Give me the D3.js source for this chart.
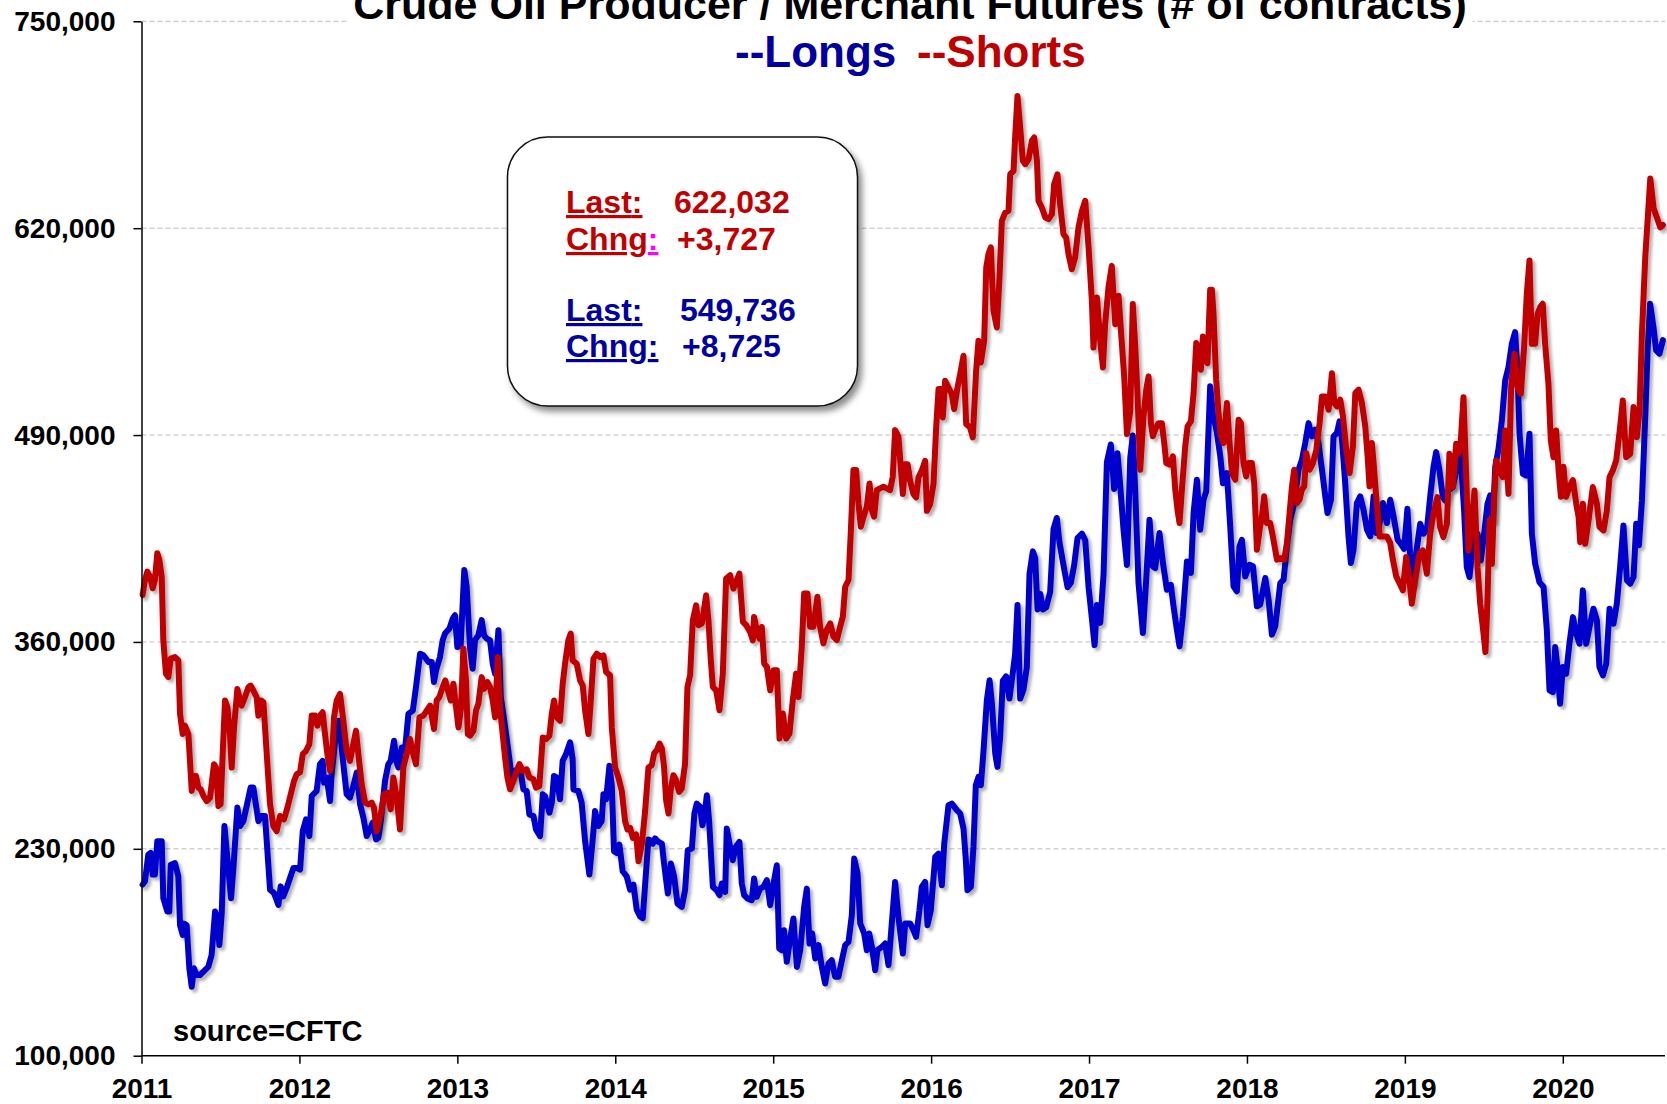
<!DOCTYPE html>
<html>
<head>
<meta charset="utf-8">
<script src="https://cdn.jsdelivr.net/npm/d3@7"></script>
<style>
body { margin: 0; background: #fff; }
svg { display: block; font-family: "Liberation Sans", Arial, sans-serif; font-weight: bold; }
.grid line { stroke: #bdbdbd; stroke-width: 1px; stroke-dasharray: 5,3; }
.axis text { font-size: 28px; font-weight: bold; fill: #000; }
.axis line { stroke: #000; stroke-width: 1.5px; }
.series { fill: none; stroke-width: 6px; stroke-linejoin: round; stroke-linecap: round; }
.box text { font-size: 32px; }
.u { text-decoration: underline; }
</style>
</head>
<body>
<svg width="1667" height="1104"></svg>
<script>
var width = 1667,
    height = 1104;

var yearTicks = [2011, 2012, 2013, 2014, 2015, 2016, 2017, 2018, 2019, 2020];
var valueTicks = [100000, 230000, 360000, 490000, 620000, 750000];

// [decimal year, thousands of contracts]
var longs = [
  [2011.007,207.5],[2011.022,209.6],[2011.043,226.4],[2011.058,227.5],[2011.071,213.8],[2011.085,213.8],[2011.100,234.8],[2011.128,234.8],
  [2011.138,199.0],[2011.164,190.6],[2011.176,190.6],[2011.185,220.0],[2011.212,221.0],[2011.233,212.7],[2011.244,182.0],[2011.261,175.9],
  [2011.269,183.0],[2011.286,181.9],[2011.303,154.9],[2011.318,143.3],[2011.332,154.9],[2011.349,150.7],[2011.370,150.7],[2011.392,152.8],
  [2011.423,155.9],[2011.444,163.3],[2011.466,190.6],[2011.480,186.4],[2011.493,169.6],[2011.508,189.6],[2011.525,244.3],[2011.540,228.5],
  [2011.567,199.0],[2011.582,218.0],[2011.607,255.9],[2011.624,244.3],[2011.645,247.4],[2011.666,256.9],[2011.691,268.5],[2011.708,268.5],
  [2011.740,247.4],[2011.761,250.6],[2011.782,250.6],[2011.814,204.3],[2011.839,202.2],[2011.867,194.8],[2011.881,206.4],[2011.898,200.1],
  [2011.919,205.4],[2011.962,218.0],[2011.983,218.0],[2012.004,216.9],[2012.021,241.1],[2012.042,248.5],[2012.063,238.0],[2012.078,263.2],
  [2012.109,266.4],[2012.130,283.2],[2012.147,285.3],[2012.156,271.6],[2012.173,274.8],[2012.194,260.0],[2012.204,276.9],[2012.226,297.9],
  [2012.251,310.5],[2012.278,283.2],[2012.299,264.3],[2012.320,262.2],[2012.341,269.5],[2012.363,278.0],[2012.384,258.0],[2012.405,249.5],
  [2012.426,238.0],[2012.447,242.2],[2012.464,246.4],[2012.485,235.9],[2012.500,236.9],[2012.515,247.4],[2012.542,272.7],[2012.563,283.2],
  [2012.578,285.3],[2012.599,297.9],[2012.616,284.3],[2012.627,281.1],[2012.648,293.7],[2012.669,292.6],[2012.690,314.8],[2012.718,316.9],
  [2012.738,331.6],[2012.764,352.6],[2012.785,351.6],[2012.817,347.4],[2012.838,347.4],[2012.852,334.8],[2012.865,342.1],[2012.890,350.5],
  [2012.907,361.1],[2012.922,365.3],[2012.950,368.4],[2012.971,374.7],[2012.985,376.8],[2013.000,356.8],[2013.021,357.9],[2013.044,405.2],
  [2013.059,394.7],[2013.080,356.8],[2013.097,343.2],[2013.112,361.1],[2013.133,364.2],[2013.154,373.7],[2013.169,364.2],[2013.186,362.1],
  [2013.207,361.1],[2013.224,346.3],[2013.239,340.0],[2013.260,367.4],[2013.275,325.3],[2013.291,314.8],[2013.323,291.6],[2013.344,274.8],
  [2013.366,279.0],[2013.397,281.1],[2013.418,267.4],[2013.439,266.4],[2013.456,251.6],[2013.482,250.6],[2013.498,242.2],[2013.524,238.0],
  [2013.541,264.3],[2013.555,263.2],[2013.583,252.7],[2013.598,259.0],[2013.612,275.8],[2013.629,274.8],[2013.650,261.1],[2013.667,285.3],
  [2013.688,289.5],[2013.714,296.9],[2013.730,286.4],[2013.735,267.4],[2013.766,266.4],[2013.787,259.0],[2013.809,234.8],[2013.836,213.8],
  [2013.857,235.9],[2013.872,253.7],[2013.893,244.3],[2013.914,247.4],[2013.925,264.3],[2013.942,261.1],[2013.963,282.2],[2013.978,269.5],
  [2013.992,228.5],[2014.009,227.5],[2014.026,232.7],[2014.047,215.9],[2014.072,212.7],[2014.094,204.3],[2014.115,207.5],[2014.136,191.7],
  [2014.157,187.5],[2014.174,186.4],[2014.189,207.5],[2014.210,235.9],[2014.221,235.4],[2014.238,233.3],[2014.252,236.5],[2014.273,234.4],
  [2014.295,233.3],[2014.309,220.8],[2014.333,201.9],[2014.352,220.8],[2014.373,212.4],[2014.394,195.6],[2014.421,193.5],[2014.442,204.0],
  [2014.459,229.1],[2014.485,230.2],[2014.501,252.2],[2014.516,258.4],[2014.537,256.3],[2014.552,244.8],[2014.563,250.1],[2014.580,263.7],
  [2014.594,248.0],[2014.618,206.1],[2014.643,204.0],[2014.660,200.9],[2014.675,208.2],[2014.696,202.9],[2014.706,242.7],[2014.727,231.2],
  [2014.744,222.8],[2014.763,231.2],[2014.786,234.4],[2014.801,208.2],[2014.816,200.9],[2014.837,198.8],[2014.864,197.7],[2014.879,211.3],
  [2014.896,199.8],[2014.917,205.0],[2014.938,206.1],[2014.960,210.3],[2014.981,194.6],[2015.002,208.2],[2015.023,219.7],[2015.038,167.4],
  [2015.055,166.3],[2015.069,178.9],[2015.086,159.0],[2015.103,170.5],[2015.128,186.2],[2015.150,155.8],[2015.171,166.3],[2015.196,193.5],
  [2015.213,205.0],[2015.230,170.5],[2015.247,176.8],[2015.266,161.1],[2015.287,169.5],[2015.308,155.8],[2015.329,145.4],[2015.350,157.9],
  [2015.371,160.0],[2015.392,149.6],[2015.413,149.6],[2015.435,160.0],[2015.456,169.5],[2015.477,171.5],[2015.498,188.3],[2015.513,223.9],
  [2015.534,214.5],[2015.551,183.1],[2015.576,176.8],[2015.593,166.3],[2015.608,176.8],[2015.625,168.4],[2015.646,153.7],[2015.660,166.3],
  [2015.688,168.4],[2015.709,170.5],[2015.730,156.9],[2015.751,183.1],[2015.772,209.2],[2015.793,187.2],[2015.821,164.2],[2015.836,183.1],
  [2015.867,183.1],[2015.888,178.9],[2015.905,174.7],[2015.926,191.4],[2015.941,206.1],[2015.962,209.2],[2015.977,182.0],[2015.998,191.4],
  [2016.026,224.9],[2016.047,227.0],[2016.068,207.1],[2016.083,233.3],[2016.110,257.4],[2016.131,258.4],[2016.163,254.3],[2016.184,252.2],
  [2016.205,242.7],[2016.220,222.8],[2016.230,204.0],[2016.252,206.1],[2016.268,231.2],[2016.283,270.0],[2016.300,275.2],[2016.315,270.0],
  [2016.332,292.0],[2016.353,323.4],[2016.370,335.9],[2016.385,321.3],[2016.406,289.9],[2016.420,281.5],[2016.437,300.0],[2016.454,335.6],
  [2016.475,338.4],[2016.496,324.4],[2016.518,341.2],[2016.532,352.4],[2016.547,383.2],[2016.564,324.4],[2016.585,330.0],[2016.606,344.0],
  [2016.623,402.8],[2016.644,416.9],[2016.659,412.7],[2016.674,380.4],[2016.691,390.2],[2016.708,380.4],[2016.729,381.8],[2016.754,391.6],
  [2016.775,430.9],[2016.796,437.9],[2016.813,422.5],[2016.838,408.4],[2016.864,394.4],[2016.885,397.2],[2016.906,408.4],[2016.927,425.3],
  [2016.955,428.1],[2016.976,423.9],[2016.997,394.4],[2017.018,374.8],[2017.035,358.0],[2017.050,383.2],[2017.071,372.0],[2017.092,402.8],
  [2017.113,472.9],[2017.138,484.1],[2017.159,456.1],[2017.180,478.5],[2017.197,458.9],[2017.218,430.9],[2017.240,408.4],[2017.261,475.7],
  [2017.277,489.7],[2017.292,456.1],[2017.313,397.2],[2017.341,365.6],[2017.362,399.1],[2017.383,436.8],[2017.404,407.5],[2017.419,406.4],
  [2017.446,428.4],[2017.468,409.6],[2017.493,392.8],[2017.518,395.9],[2017.535,382.4],[2017.556,367.7],[2017.573,357.2],[2017.594,376.1],
  [2017.620,410.6],[2017.645,403.3],[2017.662,441.0],[2017.683,461.9],[2017.704,430.5],[2017.725,449.4],[2017.742,454.6],[2017.767,520.6],
  [2017.784,503.8],[2017.810,491.3],[2017.831,476.6],[2017.848,459.8],[2017.873,466.1],[2017.894,432.6],[2017.915,394.9],[2017.936,391.8],
  [2017.953,420.1],[2017.968,424.2],[2017.989,401.2],[2018.016,408.5],[2018.038,407.5],[2018.063,382.4],[2018.084,383.5],[2018.116,400.2],
  [2018.137,386.6],[2018.158,364.6],[2018.179,369.8],[2018.211,397.0],[2018.232,399.1],[2018.253,420.1],[2018.274,436.8],[2018.295,445.2],
  [2018.327,468.2],[2018.348,474.5],[2018.369,485.0],[2018.390,497.5],[2018.411,489.2],[2018.432,493.4],[2018.453,485.0],[2018.475,468.2],
  [2018.496,451.5],[2018.510,441.0],[2018.532,449.4],[2018.548,489.2],[2018.570,491.3],[2018.586,498.6],[2018.601,488.1],[2018.622,459.8],
  [2018.643,426.3],[2018.658,409.6],[2018.675,418.0],[2018.696,447.3],[2018.717,451.5],[2018.738,443.1],[2018.760,430.5],[2018.781,426.3],
  [2018.802,451.5],[2018.819,428.4],[2018.840,434.7],[2018.861,447.3],[2018.886,434.7],[2018.907,449.4],[2018.928,438.9],[2018.954,424.2],
  [2018.971,422.1],[2018.995,418.5],[2019.016,443.7],[2019.033,415.4],[2019.050,396.6],[2019.071,415.4],[2019.097,434.3],[2019.118,428.0],
  [2019.139,430.1],[2019.160,451.0],[2019.181,469.9],[2019.198,479.3],[2019.219,467.8],[2019.240,451.0],[2019.255,448.9],[2019.276,455.2],
  [2019.304,457.3],[2019.329,469.9],[2019.350,482.4],[2019.375,442.6],[2019.392,407.0],[2019.409,400.8],[2019.434,423.8],[2019.460,428.0],
  [2019.481,411.2],[2019.502,428.0],[2019.523,446.8],[2019.540,452.1],[2019.557,436.4],[2019.572,469.9],[2019.593,481.4],[2019.614,499.2],
  [2019.635,524.3],[2019.656,532.7],[2019.677,547.3],[2019.698,554.7],[2019.713,530.6],[2019.726,490.8],[2019.747,465.7],[2019.768,464.6],
  [2019.789,490.8],[2019.804,428.0],[2019.825,409.1],[2019.852,397.6],[2019.878,394.5],[2019.899,367.3],[2019.916,329.6],[2019.937,328.5],
  [2019.952,356.8],[2019.966,344.2],[2019.983,321.2],[2020.000,344.2],[2020.021,340.0],[2020.042,358.9],[2020.064,375.6],[2020.085,365.2],
  [2020.106,358.9],[2020.127,392.4],[2020.148,358.9],[2020.173,371.4],[2020.194,380.9],[2020.216,373.5],[2020.232,344.2],[2020.254,339.0],
  [2020.275,346.3],[2020.296,380.9],[2020.321,371.4],[2020.342,384.0],[2020.363,407.0],[2020.384,433.2],[2020.406,398.7],[2020.427,396.6],
  [2020.448,400.8],[2020.465,434.3],[2020.482,420.7],[2020.501,448.9],[2020.522,501.3],[2020.537,543.2],[2020.553,572.5],[2020.574,557.8],
  [2020.591,543.2],[2020.612,541.1],[2020.634,549.7]
];

var shorts = [
  [2011.007,389.5],[2011.022,398.9],[2011.037,404.2],[2011.054,401.0],[2011.071,393.7],[2011.085,398.9],[2011.100,415.8],[2011.113,411.5],
  [2011.128,401.0],[2011.138,361.0],[2011.155,340.0],[2011.170,337.9],[2011.185,349.5],[2011.212,350.5],[2011.233,348.4],[2011.244,314.8],
  [2011.261,302.1],[2011.275,307.4],[2011.297,302.1],[2011.318,266.4],[2011.332,275.8],[2011.345,275.8],[2011.360,268.5],[2011.375,267.4],
  [2011.392,263.2],[2011.413,260.0],[2011.434,262.2],[2011.459,283.2],[2011.472,281.1],[2011.487,256.9],[2011.501,258.0],[2011.514,289.5],
  [2011.529,323.2],[2011.544,319.0],[2011.560,302.1],[2011.571,281.1],[2011.586,306.3],[2011.607,330.5],[2011.620,325.3],[2011.634,320.0],
  [2011.655,325.3],[2011.677,331.6],[2011.691,332.6],[2011.708,329.5],[2011.729,325.3],[2011.740,313.7],[2011.757,323.2],[2011.772,322.1],
  [2011.793,289.5],[2011.814,258.0],[2011.835,244.3],[2011.856,241.1],[2011.877,250.6],[2011.902,248.5],[2011.924,255.9],[2011.945,264.3],
  [2011.966,272.7],[2011.983,276.9],[2012.004,278.0],[2012.021,289.5],[2012.042,291.6],[2012.063,295.8],[2012.078,313.7],[2012.099,313.7],
  [2012.114,307.4],[2012.130,313.7],[2012.147,315.8],[2012.162,302.1],[2012.177,289.5],[2012.194,279.0],[2012.208,289.5],[2012.219,312.7],
  [2012.236,323.2],[2012.257,327.4],[2012.278,310.5],[2012.299,291.6],[2012.320,285.3],[2012.337,293.7],[2012.358,304.2],[2012.380,283.2],
  [2012.394,270.6],[2012.416,259.0],[2012.437,258.0],[2012.458,259.0],[2012.472,255.9],[2012.489,241.1],[2012.515,251.6],[2012.536,264.3],
  [2012.557,265.3],[2012.578,254.8],[2012.595,274.8],[2012.616,262.2],[2012.637,242.2],[2012.658,281.1],[2012.679,289.5],[2012.700,299.0],
  [2012.721,289.5],[2012.738,283.2],[2012.760,312.7],[2012.785,313.7],[2012.806,316.9],[2012.827,320.0],[2012.852,305.3],[2012.869,323.2],
  [2012.886,325.3],[2012.907,331.6],[2012.924,335.8],[2012.943,328.4],[2012.958,323.2],[2012.975,333.7],[2012.992,319.0],[2013.007,306.3],
  [2013.024,319.0],[2013.038,355.8],[2013.055,335.8],[2013.066,302.1],[2013.080,301.1],[2013.102,304.2],[2013.118,316.9],[2013.133,321.1],
  [2013.154,337.9],[2013.169,330.5],[2013.190,334.8],[2013.207,331.6],[2013.224,323.2],[2013.239,312.7],[2013.256,350.5],[2013.270,319.0],
  [2013.287,302.1],[2013.302,287.4],[2013.317,274.8],[2013.334,267.4],[2013.355,272.7],[2013.376,279.0],[2013.393,283.2],[2013.414,279.0],
  [2013.439,280.0],[2013.456,274.8],[2013.482,273.7],[2013.498,268.5],[2013.519,269.5],[2013.541,300.0],[2013.562,299.0],[2013.583,301.1],
  [2013.598,314.8],[2013.612,323.2],[2013.629,312.7],[2013.650,310.5],[2013.667,333.7],[2013.682,346.3],[2013.703,361.1],[2013.718,365.3],
  [2013.730,348.4],[2013.756,346.3],[2013.777,335.8],[2013.794,332.6],[2013.809,316.9],[2013.830,302.1],[2013.845,323.2],[2013.862,349.5],
  [2013.883,352.6],[2013.904,350.5],[2013.925,351.6],[2013.942,341.1],[2013.967,339.0],[2013.978,306.3],[2013.999,281.1],[2014.020,274.8],
  [2014.041,266.4],[2014.062,247.4],[2014.077,242.2],[2014.094,243.2],[2014.111,236.9],[2014.132,239.0],[2014.147,222.2],[2014.168,232.7],
  [2014.189,253.7],[2014.210,281.1],[2014.231,282.5],[2014.246,289.9],[2014.263,292.0],[2014.280,296.1],[2014.295,293.0],[2014.309,281.5],
  [2014.322,260.5],[2014.337,252.2],[2014.352,267.9],[2014.368,276.2],[2014.385,273.1],[2014.404,265.8],[2014.421,267.9],[2014.442,283.6],
  [2014.457,331.7],[2014.474,339.1],[2014.491,373.6],[2014.512,383.0],[2014.527,370.5],[2014.548,371.5],[2014.558,377.8],[2014.575,389.3],
  [2014.590,373.6],[2014.605,348.5],[2014.618,331.7],[2014.639,329.6],[2014.660,317.1],[2014.681,340.1],[2014.702,399.8],[2014.727,401.9],
  [2014.748,393.5],[2014.770,398.8],[2014.786,402.9],[2014.808,372.6],[2014.829,370.5],[2014.854,366.3],[2014.871,361.0],[2014.879,375.7],
  [2014.896,367.3],[2014.913,362.1],[2014.928,369.4],[2014.943,346.4],[2014.960,344.3],[2014.981,329.6],[2015.002,342.2],[2015.023,342.2],
  [2015.040,299.3],[2015.061,315.0],[2015.082,299.3],[2015.103,302.4],[2015.124,323.4],[2015.145,340.1],[2015.160,325.4],[2015.181,356.9],
  [2015.196,390.5],[2015.217,390.5],[2015.234,369.6],[2015.255,369.6],[2015.280,388.4],[2015.297,369.6],[2015.318,359.1],[2015.339,367.5],
  [2015.361,371.7],[2015.382,363.3],[2015.403,361.2],[2015.424,369.6],[2015.441,375.9],[2015.456,394.7],[2015.477,398.9],[2015.492,430.3],
  [2015.508,468.0],[2015.525,468.0],[2015.540,447.1],[2015.555,432.4],[2015.572,438.7],[2015.593,445.0],[2015.610,459.6],[2015.625,442.9],
  [2015.639,438.7],[2015.656,455.4],[2015.677,456.5],[2015.698,457.5],[2015.719,456.5],[2015.740,455.4],[2015.757,463.8],[2015.772,493.1],
  [2015.793,489.0],[2015.821,452.9],[2015.836,471.7],[2015.851,471.7],[2015.867,461.3],[2015.888,452.9],[2015.905,450.8],[2015.920,463.4],
  [2015.941,467.6],[2015.962,473.8],[2015.973,442.4],[2015.994,446.6],[2016.015,459.2],[2016.032,494.8],[2016.047,518.9],[2016.062,518.9],
  [2016.074,501.1],[2016.089,524.1],[2016.110,519.9],[2016.131,515.7],[2016.146,506.3],[2016.167,519.9],[2016.184,528.3],[2016.205,539.8],
  [2016.222,496.9],[2016.247,494.8],[2016.264,488.5],[2016.285,530.4],[2016.300,549.2],[2016.315,535.6],[2016.336,549.2],[2016.349,595.3],
  [2016.363,603.7],[2016.378,607.9],[2016.395,568.1],[2016.416,557.6],[2016.433,589.0],[2016.448,624.6],[2016.469,629.8],[2016.490,630.9],
  [2016.501,653.9],[2016.522,656.0],[2016.532,677.0],[2016.547,703.1],[2016.564,683.2],[2016.581,662.3],[2016.596,660.2],[2016.617,663.3],
  [2016.638,674.9],[2016.653,677.0],[2016.670,662.3],[2016.680,637.2],[2016.701,633.0],[2016.723,626.7],[2016.744,625.7],[2016.765,628.8],
  [2016.779,647.6],[2016.800,653.9],[2016.817,635.1],[2016.838,616.2],[2016.855,614.1],[2016.870,603.7],[2016.891,594.2],[2016.912,601.6],
  [2016.933,620.4],[2016.955,630.9],[2016.976,637.2],[2016.997,607.9],[2017.018,574.4],[2017.028,545.0],[2017.050,576.4],[2017.071,549.2],
  [2017.088,532.5],[2017.102,559.7],[2017.123,582.7],[2017.144,596.3],[2017.166,559.7],[2017.187,577.5],[2017.208,547.1],[2017.223,526.2],
  [2017.240,490.6],[2017.261,505.2],[2017.277,572.3],[2017.292,547.1],[2017.307,515.7],[2017.324,468.2],[2017.345,501.7],[2017.362,518.5],
  [2017.377,526.9],[2017.392,497.5],[2017.404,489.2],[2017.419,493.4],[2017.440,497.5],[2017.461,497.5],[2017.476,485.0],[2017.489,472.4],
  [2017.510,471.4],[2017.531,476.6],[2017.546,455.7],[2017.560,443.1],[2017.573,434.7],[2017.588,455.7],[2017.609,482.9],[2017.624,495.4],
  [2017.645,498.6],[2017.662,516.4],[2017.679,547.8],[2017.693,543.6],[2017.708,531.0],[2017.721,552.0],[2017.736,537.3],[2017.750,535.2],
  [2017.767,581.3],[2017.778,581.3],[2017.788,566.6],[2017.805,524.8],[2017.820,503.8],[2017.835,489.2],[2017.852,485.0],[2017.873,510.1],
  [2017.890,485.0],[2017.905,466.1],[2017.926,461.9],[2017.947,499.6],[2017.962,497.5],[2017.978,472.4],[2017.995,464.0],[2018.010,472.4],
  [2018.031,472.4],[2018.046,459.8],[2018.063,418.0],[2018.080,430.5],[2018.095,438.9],[2018.109,451.5],[2018.126,434.7],[2018.147,434.7],
  [2018.164,426.3],[2018.190,411.7],[2018.211,412.7],[2018.236,411.7],[2018.253,422.2],[2018.270,441.0],[2018.285,457.8],[2018.299,468.2],
  [2018.316,447.3],[2018.333,449.4],[2018.348,455.7],[2018.363,457.8],[2018.375,478.7],[2018.397,468.2],[2018.418,472.4],[2018.439,480.8],
  [2018.460,497.5],[2018.475,514.3],[2018.496,514.3],[2018.517,505.9],[2018.538,528.9],[2018.553,510.1],[2018.570,508.0],[2018.591,512.2],
  [2018.608,501.7],[2018.629,480.8],[2018.650,466.1],[2018.671,482.9],[2018.686,516.4],[2018.707,518.5],[2018.728,510.1],[2018.749,495.4],
  [2018.764,476.6],[2018.776,457.8],[2018.791,485.0],[2018.802,472.4],[2018.823,445.2],[2018.840,426.3],[2018.861,426.3],[2018.886,426.3],
  [2018.907,422.2],[2018.924,411.7],[2018.945,401.2],[2018.966,397.0],[2018.987,392.4],[2019.008,413.3],[2019.029,398.7],[2019.044,384.0],
  [2019.065,398.7],[2019.092,415.4],[2019.114,417.5],[2019.139,402.9],[2019.160,427.9],[2019.181,440.5],[2019.206,451.0],[2019.223,432.2],
  [2019.244,425.9],[2019.266,434.3],[2019.282,478.2],[2019.304,457.3],[2019.325,484.5],[2019.339,478.2],[2019.354,486.6],[2019.371,513.8],
  [2019.388,465.7],[2019.403,417.5],[2019.424,436.4],[2019.441,455.2],[2019.460,407.0],[2019.477,384.0],[2019.498,365.2],[2019.510,353.6],
  [2019.523,386.1],[2019.536,436.4],[2019.551,409.1],[2019.565,448.9],[2019.578,474.0],[2019.599,467.8],[2019.620,463.6],[2019.635,492.9],
  [2019.656,453.1],[2019.673,520.1],[2019.694,541.1],[2019.713,520.1],[2019.734,515.9],[2019.755,545.2],[2019.772,578.7],[2019.789,599.7],
  [2019.804,547.3],[2019.825,547.3],[2019.840,566.2],[2019.857,570.4],[2019.873,572.5],[2019.888,547.3],[2019.909,522.2],[2019.924,486.6],
  [2019.941,476.1],[2019.958,492.9],[2019.973,468.0],[2019.988,451.2],[2020.004,470.1],[2020.021,451.2],[2020.042,457.4],[2020.064,461.6],
  [2020.085,446.9],[2020.100,438.5],[2020.110,422.7],[2020.127,446.9],[2020.142,421.7],[2020.163,436.4],[2020.190,457.3],[2020.216,446.8],
  [2020.232,432.2],[2020.258,430.1],[2020.279,442.6],[2020.296,463.6],[2020.317,467.8],[2020.338,474.0],[2020.363,495.0],[2020.380,511.7],
  [2020.401,476.1],[2020.427,478.2],[2020.448,507.6],[2020.469,488.7],[2020.486,505.5],[2020.501,553.6],[2020.522,601.8],[2020.554,651.2],
  [2020.575,632.5],[2020.596,626.5],[2020.617,620.5],[2020.634,622.0]
];

var shortsBox = ["622,032", "+3,727"],
    longsBox = ["549,736", "+8,725"];

var left = 141.5,
    right = 1665;

var x = d3.scaleLinear()
    .domain([2011, 2020])
    .range([left, 1562.8]);

var y = d3.scaleLinear()
    .domain([100000, 750000])
    .range([1055.7, 21.3]);

var svg = d3.select("svg");

var defs = svg.append("defs");
defs.append("filter")
    .attr("id", "lineShadow")
    .attr("x", "-5%").attr("y", "-5%").attr("width", "110%").attr("height", "110%")
  .append("feDropShadow")
    .attr("dx", 3).attr("dy", 3).attr("stdDeviation", 1.5)
    .attr("flood-color", "#000").attr("flood-opacity", 0.3);
defs.append("filter")
    .attr("id", "boxShadow")
    .attr("x", "-10%").attr("y", "-10%").attr("width", "125%").attr("height", "125%")
  .append("feDropShadow")
    .attr("dx", 4).attr("dy", 5).attr("stdDeviation", 3)
    .attr("flood-color", "#000").attr("flood-opacity", 0.45);

// dashed grid
svg.append("g")
    .attr("class", "grid")
  .selectAll("line")
    .data(valueTicks.slice(1))
  .enter().append("line")
    .attr("x1", left).attr("x2", right)
    .attr("y1", function(d) { return y(d); })
    .attr("y2", function(d) { return y(d); });

// series, longs under shorts
var line = d3.line()
    .x(function(d) { return x(d[0]); })
    .y(function(d) { return y(d[1] * 1000); });

svg.append("path")
    .datum(longs)
    .attr("class", "series")
    .attr("stroke", "#0000cc")
    .attr("filter", "url(#lineShadow)")
    .attr("d", line);

svg.append("path")
    .datum(shorts)
    .attr("class", "series")
    .attr("stroke", "#c00000")
    .attr("filter", "url(#lineShadow)")
    .attr("d", line);

// axes
var yAxis = svg.append("g")
    .attr("class", "axis")
    .attr("transform", "translate(" + left + ",0)")
    .call(d3.axisLeft(y)
      .tickValues(valueTicks)
      .tickFormat(d3.format(","))
      .tickSize(8)
      .tickSizeOuter(0)
      .tickPadding(18));
yAxis.select(".domain").attr("stroke", "#000").attr("stroke-width", 1.5);

var xAxis = svg.append("g")
    .attr("class", "axis")
    .attr("transform", "translate(0," + y(100000) + ")")
    .call(d3.axisBottom(x)
      .tickValues(yearTicks)
      .tickFormat(d3.format("d"))
      .tickSize(8)
      .tickSizeOuter(0)
      .tickPadding(14));
xAxis.select(".domain").remove();
xAxis.append("line")
    .attr("x1", left).attr("x2", right)
    .attr("stroke", "#333").attr("stroke-width", 2.5);

// title, sitting on a white patch over the top grid line
var title = svg.append("g");
var titleText = title.append("text")
    .attr("x", 910)
    .attr("y", 19)
    .attr("text-anchor", "middle")
    .attr("font-size", 43)
    .text("Crude Oil Producer / Merchant Futures  (# of contracts)");
var tb = titleText.node().getBBox();
title.insert("rect", "text")
    .attr("x", tb.x - 6).attr("y", tb.y).attr("width", tb.width + 12).attr("height", tb.height)
    .attr("fill", "#fff");

svg.append("text")
    .attr("x", 735).attr("y", 67)
    .attr("font-size", 44).attr("fill", "#0000a0")
    .text("--Longs");
svg.append("text")
    .attr("x", 917).attr("y", 67)
    .attr("font-size", 44).attr("fill", "#c00000")
    .text("--Shorts");

svg.append("text")
    .attr("x", 173).attr("y", 1041)
    .attr("font-size", 29)
    .text("source=CFTC");

// last / change box
var box = svg.append("g").attr("class", "box");
box.append("rect")
    .attr("x", 507.5).attr("y", 137)
    .attr("width", 350).attr("height", 269)
    .attr("rx", 40).attr("ry", 40)
    .attr("fill", "#fff").attr("stroke", "#111").attr("stroke-width", 1.5)
    .attr("filter", "url(#boxShadow)");

function boxRow(yPos, label, colon, value, valueX, color) {
  var t = box.append("text")
      .attr("x", 566).attr("y", yPos)
      .attr("fill", color);
  t.append("tspan").attr("class", "u").text(label);
  t.append("tspan").attr("class", "u").attr("fill", colon).text(":");
  box.append("text")
      .attr("x", valueX).attr("y", yPos)
      .attr("fill", color)
      .text(value);
}

boxRow(213, "Last", "#c00000", shortsBox[0], 674, "#c00000");
boxRow(250, "Chng", "#ff00ff", shortsBox[1], 677, "#c00000");
boxRow(321, "Last", "#0000a0", longsBox[0], 680, "#0000a0");
boxRow(357, "Chng", "#0000a0", longsBox[1], 682, "#0000a0");
</script>
</body>
</html>
